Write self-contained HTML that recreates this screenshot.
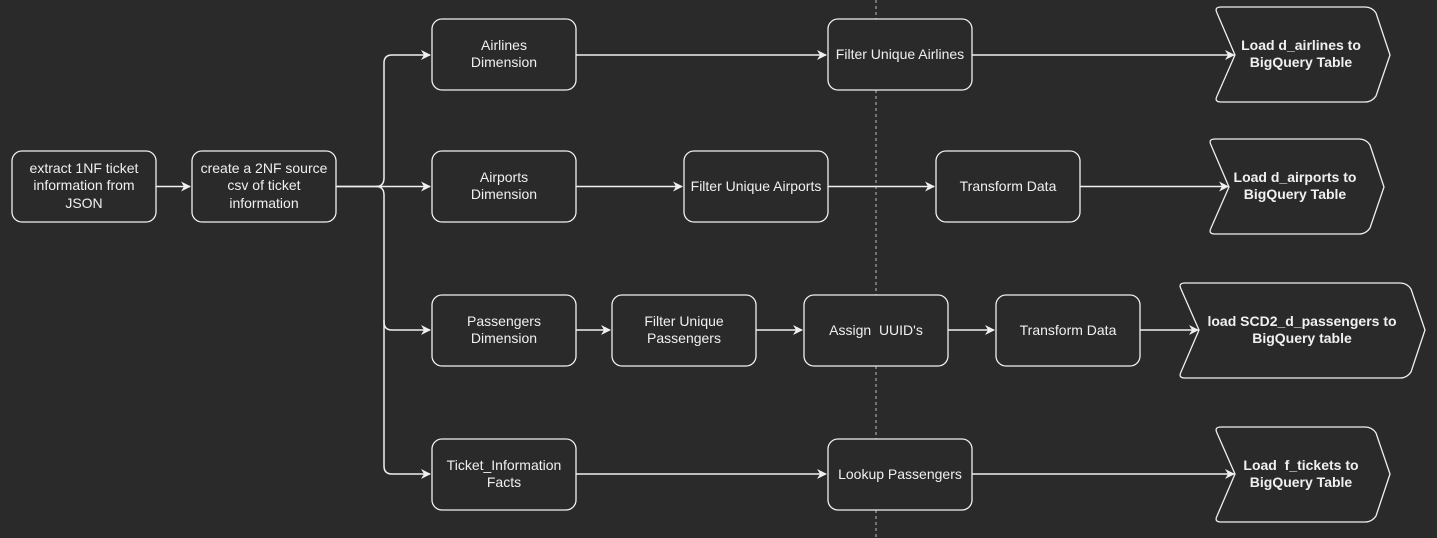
<!DOCTYPE html>
<html><head><meta charset="utf-8"><style>
html,body{margin:0;padding:0;background:#2a2a2a;}
svg{display:block;}
text{font-family:"Liberation Sans",Arial,sans-serif;font-size:14px;fill:#f0f0f0;text-anchor:middle;}
.b{font-weight:bold;}
</style></head><body>
<svg width="1437" height="538" viewBox="0 0 1437 538" xmlns="http://www.w3.org/2000/svg">
<defs>
<marker id="a" markerWidth="10" markerHeight="10" refX="9" refY="5" orient="auto" markerUnits="userSpaceOnUse">
<path d="M0,0 L10,5 L0,10 L3,5 Z" fill="#f0f0f0"/>
</marker>
</defs>
<line x1="876" y1="0" x2="876" y2="538" stroke="#bdbdbd" stroke-width="1" stroke-dasharray="3,3"/>
<g fill="none" stroke="#f0f0f0" stroke-width="1.5">
<path d="M156,186.5 H190" marker-end="url(#a)"/>
<path d="M336,186.5 H376 Q384,186.5 384,178 V63 Q384,55 392,55 H430" marker-end="url(#a)"/>
<path d="M336,186.5 H430" marker-end="url(#a)"/>
<path d="M376,186.5 Q384,186.5 384,195 V322 Q384,330 392,330 H430" marker-end="url(#a)"/>
<path d="M384,320 V466 Q384,474 392,474 H430" marker-end="url(#a)"/>
<path d="M576,55 H826" marker-end="url(#a)"/>
<path d="M972,55 H1234" marker-end="url(#a)"/>
<path d="M576,186.5 H682" marker-end="url(#a)"/>
<path d="M828,186.5 H934" marker-end="url(#a)"/>
<path d="M1080,186.5 H1228" marker-end="url(#a)"/>
<path d="M576,330 H610" marker-end="url(#a)"/>
<path d="M756,330 H802" marker-end="url(#a)"/>
<path d="M948,330 H994" marker-end="url(#a)"/>
<path d="M1140,330 H1198" marker-end="url(#a)"/>
<path d="M576,474 H826" marker-end="url(#a)"/>
<path d="M972,474 H1234" marker-end="url(#a)"/>
</g>
<g fill="#2a2a2a" stroke="#f0f0f0" stroke-width="1.3">
<rect x="12" y="151" width="144" height="71" rx="10"/>
<rect x="192" y="151" width="144" height="71" rx="10"/>
<rect x="432" y="19" width="144" height="71" rx="10"/>
<rect x="432" y="151" width="144" height="71" rx="10"/>
<rect x="432" y="295" width="144" height="71" rx="10"/>
<rect x="432" y="439" width="144" height="71" rx="10"/>
<rect x="828" y="19" width="144" height="71" rx="10"/>
<rect x="684" y="151" width="144" height="71" rx="10"/>
<rect x="936" y="151" width="144" height="71" rx="10"/>
<rect x="612" y="295" width="144" height="71" rx="10"/>
<rect x="804" y="295" width="144" height="71" rx="10"/>
<rect x="996" y="295" width="144" height="71" rx="10"/>
<rect x="828" y="439" width="144" height="71" rx="10"/>
<path d="M1221,7 H1365 Q1372,7 1376,13 L1390,55 L1376,96 Q1372,102 1365,102 H1221 Q1214,102 1217,96 L1235,55 L1217,13 Q1214,7 1221,7 Z"/>
<path d="M1215,139 H1359 Q1366,139 1370,145 L1384,187 L1370,228 Q1366,234 1359,234 H1215 Q1208,234 1211,228 L1229,187 L1211,145 Q1208,139 1215,139 Z"/>
<path d="M1185,283 H1400 Q1407,283 1411,289 L1425,330 L1411,372 Q1407,378 1400,378 H1185 Q1178,378 1181,372 L1199,330 L1181,289 Q1178,283 1185,283 Z"/>
<path d="M1221,427 H1365 Q1372,427 1376,433 L1390,474 L1376,516 Q1372,522 1365,522 H1221 Q1214,522 1217,516 L1235,474 L1217,433 Q1214,427 1221,427 Z"/>
</g>
<text x="84" y="173">extract 1NF ticket</text>
<text x="84" y="190">information from</text>
<text x="84" y="208">JSON</text>
<text x="264" y="173">create a 2NF source</text>
<text x="264" y="190">csv of ticket</text>
<text x="264" y="208">information</text>
<text x="504" y="50">Airlines</text>
<text x="504" y="67">Dimension</text>
<text x="504" y="182">Airports</text>
<text x="504" y="199">Dimension</text>
<text x="504" y="326">Passengers</text>
<text x="504" y="343">Dimension</text>
<text x="504" y="470">Ticket_Information</text>
<text x="504" y="487">Facts</text>
<text x="900" y="59">Filter Unique Airlines</text>
<text x="756" y="191">Filter Unique Airports</text>
<text x="1008" y="191">Transform Data</text>
<text x="684" y="326">Filter Unique</text>
<text x="684" y="343">Passengers</text>
<text x="876" y="335">Assign&#160; UUID's</text>
<text x="1068" y="335">Transform Data</text>
<text x="900" y="479">Lookup Passengers</text>
<text class="b" x="1301" y="50">Load d_airlines to</text>
<text class="b" x="1301" y="67">BigQuery Table</text>
<text class="b" x="1295" y="182">Load d_airports to</text>
<text class="b" x="1295" y="199">BigQuery Table</text>
<text class="b" x="1302" y="326">load SCD2_d_passengers to</text>
<text class="b" x="1302" y="343">BigQuery table</text>
<text class="b" x="1301" y="470">Load&#160; f_tickets to</text>
<text class="b" x="1301" y="487">BigQuery Table</text>
</svg>
</body></html>
